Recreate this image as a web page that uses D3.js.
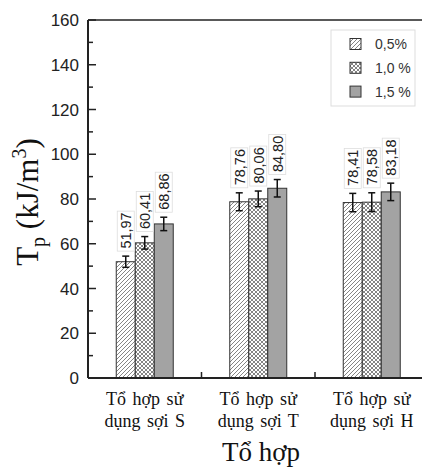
<!DOCTYPE html>
<html>
<head>
<meta charset="utf-8">
<script src="https://cdn.jsdelivr.net/npm/d3@7"></script>
<style>
  body { margin: 0; background: #fff; }
  svg { display: block; }
</style>
</head>
<body>
<svg width="422" height="470"></svg>
<script>
// Data
const groups = ["Tổ hợp sử|dụng sợi S", "Tổ hợp sử|dụng sợi T", "Tổ hợp sử|dụng sợi H"];
const series = ["0,5%", "1,0 %", "1,5 %"];
const values = [
  [51.97, 60.41, 68.86],
  [78.76, 80.06, 84.80],
  [78.41, 78.58, 83.18]
];
const errors = [
  [2.5, 2.8, 3.0],
  [4.0, 3.5, 3.9],
  [4.1, 4.2, 3.9]
];
const labels = [
  ["51,97", "60,41", "68,86"],
  ["78,76", "80,06", "84,80"],
  ["78,41", "78,58", "83,18"]
];
const yTicks = [0, 20, 40, 60, 80, 100, 120, 140, 160];

const svg = d3.select("svg"),
    width = +svg.attr("width"),
    height = +svg.attr("height");

const mLeft = 88, mTop = 20, mBottom = 378, mRight = 428.5;

// scales
const y = d3.scaleLinear().domain([0, 160]).range([mBottom, mTop]);
const x = d3.scaleLinear().domain([0.5, 3.5]).range([mLeft, mRight]);
const xs = d3.scaleBand().domain(series).range([-28.5, 28.5]).padding(0);

// patterns
const defs = svg.append("defs");
const hatch = defs.append("pattern")
    .attr("id", "hatch").attr("patternUnits", "userSpaceOnUse")
    .attr("width", 4).attr("height", 4);
hatch.append("rect").attr("width", 4).attr("height", 4).attr("fill", "#fff");
hatch.append("path").attr("d", "M-1,1 l2,-2 M0,4 l4,-4 M3,5 l2,-2")
    .attr("stroke", "#777").attr("stroke-width", 0.9);

const cross = defs.append("pattern")
    .attr("id", "cross").attr("patternUnits", "userSpaceOnUse")
    .attr("width", 4).attr("height", 4);
cross.append("rect").attr("width", 4).attr("height", 4).attr("fill", "#fff");
cross.append("path").attr("d", "M-1,1 l2,-2 M0,4 l4,-4 M3,5 l2,-2 M-1,3 l2,2 M0,0 l4,4 M3,-1 l2,2")
    .attr("stroke", "#666").attr("stroke-width", 0.8);

const fills = ["url(#hatch)", "url(#cross)", "#a3a3a3"];

// bars
const gBars = svg.append("g");
groups.forEach((g, gi) => {
  series.forEach((s, si) => {
    const x0 = x(gi + 1) + xs(s);
    gBars.append("rect")
      .attr("x", x0)
      .attr("y", y(values[gi][si]))
      .attr("width", xs.bandwidth())
      .attr("height", y(0) - y(values[gi][si]))
      .attr("fill", fills[si])
      .attr("stroke", "#333")
      .attr("stroke-width", 1);
  });
});

// error bars and value labels
const gErr = svg.append("g");
groups.forEach((g, gi) => {
  series.forEach((s, si) => {
    const cx = x(gi + 1) + xs(s) + xs.bandwidth() / 2;
    const v = values[gi][si], e = errors[gi][si];
    const y1 = y(v + e), y2 = y(v - e);
    gErr.append("line").attr("x1", cx).attr("x2", cx).attr("y1", y1).attr("y2", y2)
      .attr("stroke", "#111").attr("stroke-width", 1.5);
    [y1, y2].forEach(yy => gErr.append("line")
      .attr("x1", cx - 3.5).attr("x2", cx + 3.5).attr("y1", yy).attr("y2", yy)
      .attr("stroke", "#111").attr("stroke-width", 1.5));

    const lab = gErr.append("g")
      .attr("transform", `translate(${cx},${y1 - 5}) rotate(-90)`);
    lab.append("rect")
      .attr("x", 0).attr("y", -8.5).attr("width", 40).attr("height", 17)
      .attr("fill", "#fff").attr("stroke", "#ddd").attr("stroke-width", 0.8);
    lab.append("text")
      .attr("x", 2.5).attr("y", 5.5)
      .attr("font-family", "Liberation Sans, Arial, sans-serif")
      .attr("font-size", 14.5).attr("fill", "#222")
      .text(labels[gi][si]);
  });
});

// frame
svg.append("line").attr("x1", mLeft).attr("x2", width).attr("y1", mTop).attr("y2", mTop)
  .attr("stroke", "#222").attr("stroke-width", 1.5);

// y axis
const yAxis = svg.append("g");
yAxis.append("line").attr("x1", mLeft).attr("x2", mLeft).attr("y1", mTop).attr("y2", mBottom)
  .attr("stroke", "#222").attr("stroke-width", 2);
d3.range(0, 161, 10).forEach(t => {
  const major = t % 20 === 0;
  yAxis.append("line").attr("x1", mLeft).attr("x2", mLeft + (major ? 8 : 5))
    .attr("y1", y(t)).attr("y2", y(t)).attr("stroke", "#222").attr("stroke-width", 1.5);
});
yAxis.selectAll("text").data(yTicks).join("text")
  .attr("x", mLeft - 9).attr("y", d => y(d) + 6)
  .attr("text-anchor", "end")
  .attr("font-family", "Liberation Sans, Arial, sans-serif")
  .attr("font-size", 17).attr("fill", "#222")
  .text(d => d);

// x axis
const xAxis = svg.append("g");
xAxis.append("line").attr("x1", mLeft).attr("x2", width).attr("y1", mBottom).attr("y2", mBottom)
  .attr("stroke", "#222").attr("stroke-width", 2);
[1.5, 2.5].forEach(t => xAxis.append("line")
  .attr("x1", x(t)).attr("x2", x(t)).attr("y1", mBottom).attr("y2", mBottom - 6)
  .attr("stroke", "#222").attr("stroke-width", 1.5));
groups.forEach((g, gi) => {
  const t = xAxis.append("text")
    .attr("text-anchor", "middle")
    .attr("font-family", "Liberation Serif, Times New Roman, serif")
    .attr("font-size", 18).attr("word-spacing", 2).attr("fill", "#111");
  g.split("|").forEach((line, li) => t.append("tspan")
    .attr("x", x(gi + 1)).attr("y", 405 + li * 22).text(line));
});

// axis titles
svg.append("text")
  .attr("x", 261).attr("y", 461)
  .attr("text-anchor", "middle")
  .attr("font-family", "Liberation Serif, Times New Roman, serif")
  .attr("font-size", 27).attr("fill", "#111")
  .text("Tổ hợp");

const yt = svg.append("text")
  .attr("transform", "translate(38,202) rotate(-90)")
  .attr("text-anchor", "middle")
  .attr("font-family", "Liberation Serif, Times New Roman, serif")
  .attr("font-size", 31).attr("fill", "#111");
yt.append("tspan").text("T");
yt.append("tspan").attr("font-size", 20).attr("dy", 7).text("p");
yt.append("tspan").attr("dy", -7).text(" (kJ/m");
yt.append("tspan").attr("font-size", 20).attr("dy", -12).text("3");
yt.append("tspan").attr("dy", 12).text(")");

// legend
const leg = svg.append("g");
leg.append("rect").attr("x", 331).attr("y", 30).attr("width", 84).attr("height", 76)
  .attr("fill", "#fff").attr("stroke", "#ddd").attr("stroke-width", 1);
series.forEach((s, si) => {
  const cy = 44 + si * 23.8;
  leg.append("rect").attr("x", 350).attr("y", cy - 5.5).attr("width", 11).attr("height", 11)
    .attr("fill", fills[si]).attr("stroke", "#333").attr("stroke-width", 1);
  leg.append("text").attr("x", 375).attr("y", cy + 5)
    .attr("font-family", "Liberation Sans, Arial, sans-serif")
    .attr("font-size", 14).attr("fill", "#333")
    .text(s);
});
</script>
</body>
</html>
